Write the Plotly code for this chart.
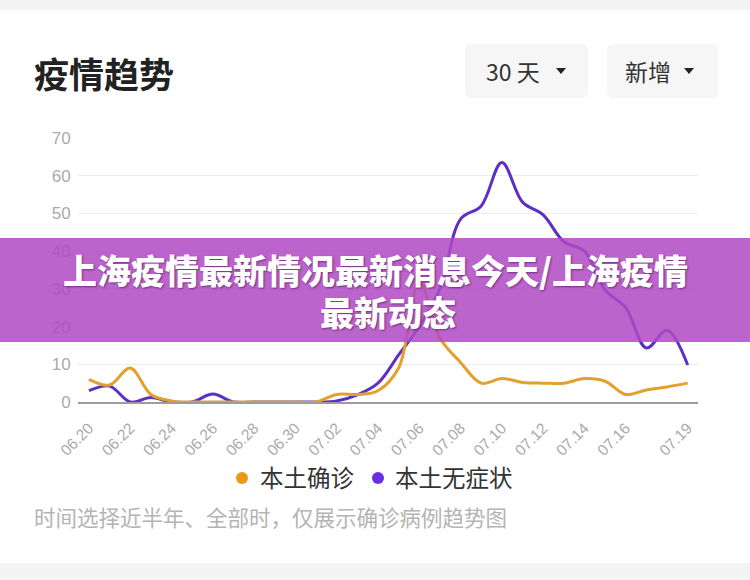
import plotly.graph_objects as go

# ---- data ----
dates = ["06.20", "06.21", "06.22", "06.23", "06.24", "06.25", "06.26", "06.27", "06.28", "06.29",
         "06.30", "07.01", "07.02", "07.03", "07.04", "07.05", "07.06", "07.07", "07.08", "07.09",
         "07.10", "07.11", "07.12", "07.13", "07.14", "07.15", "07.16", "07.17", "07.18", "07.19"]
confirmed = [6, 4.5, 9, 2, 0.3, 0, 0, 0, 0, 0,
             0, 0, 2, 2, 3, 9, 32, 17, 10.5, 5,
             6.2, 5.2, 5, 5, 6.2, 5.5, 2, 3.2, 4, 5]
asymptomatic = [3, 4.2, 0, 1.2, 0, 0, 2.1, 0, 0, 0,
                0, 0, 0.3, 1.9, 5, 12.5, 20, 30, 48.5, 52,
                63.5, 53, 49.6, 42.5, 40, 29.7, 25, 14.3, 19, 9.8]
tick_labels = ["06.20", "06.22", "06.24", "06.26", "06.28", "06.30", "07.02", "07.04",
               "07.06", "07.08", "07.10", "07.12", "07.14", "07.16", "07.19"]
y_ticks = [0, 10, 20, 30, 40, 50, 60, 70]
series_names = ["本土确诊", "本土无症状"]

# ---- geometry helpers (pixel -> paper) ----
W, H = 750, 580
L, R, T, B = 78, 698, 138, 402


def px(x):
    return (x - L) / (R - L)


def py(y):
    return (B - y) / (B - T)


CJK = "Noto Sans CJK SC"
YEL_LINE = "#e2a02c"
PUR_LINE = "#5d2fc4"
YEL_DOT = "#e89a17"
PUR_DOT = "#6a2ee3"

fig = go.Figure()
fig.add_trace(go.Scatter(x=dates, y=asymptomatic, mode="lines", name=series_names[1],
                         line=dict(color=PUR_LINE, width=3, shape="spline", smoothing=1.0),
                         showlegend=False, hoverinfo="skip"))
fig.add_trace(go.Scatter(x=dates, y=confirmed, mode="lines", name=series_names[0],
                         line=dict(color=YEL_LINE, width=3, shape="spline", smoothing=1.0),
                         showlegend=False, hoverinfo="skip"))

shapes = []
# top and bottom gray bands
shapes.append(dict(type="rect", xref="paper", yref="paper", x0=px(0), x1=px(W), y0=py(10), y1=py(0),
                   fillcolor="#f4f4f4", line=dict(width=0), layer="below"))
shapes.append(dict(type="rect", xref="paper", yref="paper", x0=px(0), x1=px(W), y0=py(H), y1=py(563),
                   fillcolor="#f4f4f4", line=dict(width=0), layer="below"))


def rounded(x0, y0, x1, y1, r):
    X0, X1 = px(x0), px(x1)
    Y0, Y1 = py(y0), py(y1)  # Y0 top (larger), Y1 bottom
    rx = r / (R - L)
    ry = r / (B - T)
    return (f"M {X0+rx},{Y0} L {X1-rx},{Y0} Q {X1},{Y0} {X1},{Y0-ry} "
            f"L {X1},{Y1+ry} Q {X1},{Y1} {X1-rx},{Y1} L {X0+rx},{Y1} "
            f"Q {X0},{Y1} {X0},{Y1+ry} L {X0},{Y0-ry} Q {X0},{Y0} {X0+rx},{Y0} Z")


for (bx0, bx1) in [(465, 588), (607, 718)]:
    shapes.append(dict(type="path", xref="paper", yref="paper", path=rounded(bx0, 44, bx1, 98, 6),
                       fillcolor="#f6f6f6", line=dict(width=0), layer="below"))


def tri(cx, cy):
    return (f"M {px(cx-5)},{py(cy-3)} L {px(cx+5)},{py(cy-3)} L {px(cx)},{py(cy+3)} Z")


for cx in [561, 689]:
    shapes.append(dict(type="path", xref="paper", yref="paper", path=tri(cx, 71),
                       fillcolor="#222222", line=dict(width=0)))

# legend dots
for (cx, col) in [(242, YEL_DOT), (378, PUR_DOT)]:
    shapes.append(dict(type="circle", xref="paper", yref="paper",
                       x0=px(cx - 6), x1=px(cx + 6), y0=py(478 + 6), y1=py(478 - 6),
                       fillcolor=col, line=dict(width=0)))

# overlay banner
shapes.append(dict(type="rect", xref="paper", yref="paper", x0=px(0), x1=px(W), y0=py(342), y1=py(238),
                   fillcolor="rgba(176,74,196,0.86)", line=dict(width=0), layer="above"))

banner_font = dict(family=CJK, size=34, color="#ffffff", weight=900,
                   shadow="1px 1px 2px rgba(60,0,70,0.55)")
annotations = [
    dict(text="疫情趋势", x=px(32), y=py(72), xref="paper", yref="paper", xanchor="left", yanchor="middle",
         showarrow=False, font=dict(family=CJK, size=35, color="#222222", weight=600)),
    dict(text="30 天", x=px(513), y=py(71), xref="paper", yref="paper", xanchor="center", yanchor="middle",
         showarrow=False, font=dict(family=CJK, size=23, color="#333333")),
    dict(text="新增", x=px(648), y=py(71), xref="paper", yref="paper", xanchor="center", yanchor="middle",
         showarrow=False, font=dict(family=CJK, size=23, color="#333333")),
    dict(text=series_names[0], x=px(258), y=py(477), xref="paper", yref="paper", xanchor="left", yanchor="middle",
         showarrow=False, font=dict(family=CJK, size=23.5, color="#333333")),
    dict(text=series_names[1], x=px(393), y=py(477), xref="paper", yref="paper", xanchor="left", yanchor="middle",
         showarrow=False, font=dict(family=CJK, size=23.5, color="#333333")),
    dict(text="时间选择近半年、全部时，仅展示确诊病例趋势图", x=px(32), y=py(516), xref="paper", yref="paper",
         xanchor="left", yanchor="middle", showarrow=False,
         font=dict(family=CJK, size=21.5, color="#b4b4b4")),
    dict(text="上海疫情最新情况最新消息今天/上海疫情", x=px(375), y=py(269), xref="paper", yref="paper",
         xanchor="center", yanchor="middle", showarrow=False, font=banner_font),
    dict(text="最新动态", x=px(388), y=py(311), xref="paper", yref="paper",
         xanchor="center", yanchor="middle", showarrow=False, font=banner_font),
]

fig.update_layout(
    width=W, height=H,
    margin=dict(l=L, r=W - R, t=T, b=H - B, pad=0),
    paper_bgcolor="white", plot_bgcolor="white",
    shapes=shapes, annotations=annotations,
    showlegend=False,
    xaxis=dict(type="category", range=[-0.53, 29.5], tickmode="array", tickvals=tick_labels,
               ticktext=tick_labels, tickangle=-45, showgrid=False, zeroline=False,
               showline=True, linecolor="#9c9c9c", linewidth=2,
               ticks="outside", ticklen=9, tickcolor="rgba(0,0,0,0)",
               tickfont=dict(family="Liberation Sans", size=15.5, color="#aaaaaa")),
    yaxis=dict(range=[0, 70], tickvals=y_ticks, showgrid=True, gridcolor="#ededed", gridwidth=1,
               zeroline=False, showline=False, ticks="outside", ticklen=3, tickcolor="rgba(0,0,0,0)",
               tickfont=dict(family="Liberation Sans", size=17, color="#aaaaaa")),
)

fig.write_html("out.html")
